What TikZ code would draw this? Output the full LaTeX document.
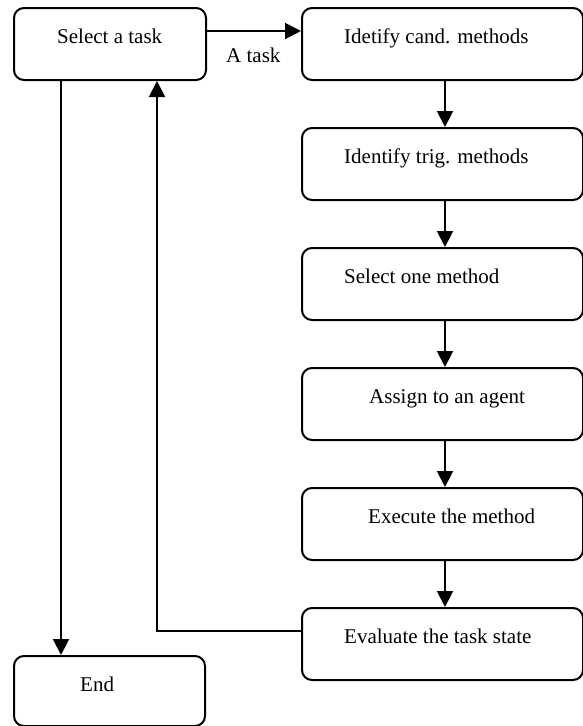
\documentclass[tikz,border=0pt]{standalone}
\usepackage{fontspec}
\setmainfont{Liberation Serif}
\usetikzlibrary{arrows.meta}
\begin{document}
\begin{tikzpicture}[x=1pt,y=-1pt,
  boxshape/.style={draw,line width=2pt,rounded corners=10pt,rectangle,inner sep=0pt,
    minimum height=72pt,anchor=north west},
  txt/.style={anchor=base west,inner sep=0pt,font=\fontsize{21}{25}\selectfont},
  conn/.style={line width=2pt,-{Triangle[length=16pt,width=16pt]}},
  plain/.style={line width=2pt}]
\useasboundingbox (0,0) rectangle (583,726);
% boxes
\node[boxshape,minimum width=192pt] (sel) at (13,7) {};
\node[boxshape,minimum width=281pt] (c1) at (301,7) {};
\node[boxshape,minimum width=281pt] (c2) at (301,127) {};
\node[boxshape,minimum width=281pt] (c3) at (301,247) {};
\node[boxshape,minimum width=281pt] (c4) at (301,367) {};
\node[boxshape,minimum width=281pt] (c5) at (301,487) {};
\node[boxshape,minimum width=281pt] (c6) at (301,607) {};
\node[boxshape,minimum width=191pt,minimum height=70pt] (endb) at (13,655) {};
% texts
\node[txt] (tsel) at (57,43) {Select a task};
\node[txt] (t1) at (344,43) {Idetify cand. methods};
\node[txt] (t2) at (344,163) {Identify trig. methods};
\node[txt] (t3) at (344,283) {Select one method};
\node[txt] (t4) at (369,403) {Assign to an agent};
\node[txt] (t5) at (368,523) {Execute the method};
\node[txt] (t6) at (344,643) {Evaluate the task state};
\node[txt] (tend) at (80,691) {End};
\node[txt] (tlab) at (226,62) {A task};
% connectors
\draw[conn] (sel.east |- 0,31) -- (c1.west |- 0,31);
\draw[conn] (c1.south -| 445,0) -- (c2.north -| 445,0);
\draw[conn] (c2.south -| 445,0) -- (c3.north -| 445,0);
\draw[conn] (c3.south -| 445,0) -- (c4.north -| 445,0);
\draw[conn] (c4.south -| 445,0) -- (c5.north -| 445,0);
\draw[conn] (c5.south -| 445,0) -- (c6.north -| 445,0);
\draw[conn] (sel.south -| 61,0) -- (endb.north -| 61,0);
\draw[conn] (c6.west |- 0,631) -- (157,631) -- (sel.south -| 157,0);
\end{tikzpicture}
\end{document}
